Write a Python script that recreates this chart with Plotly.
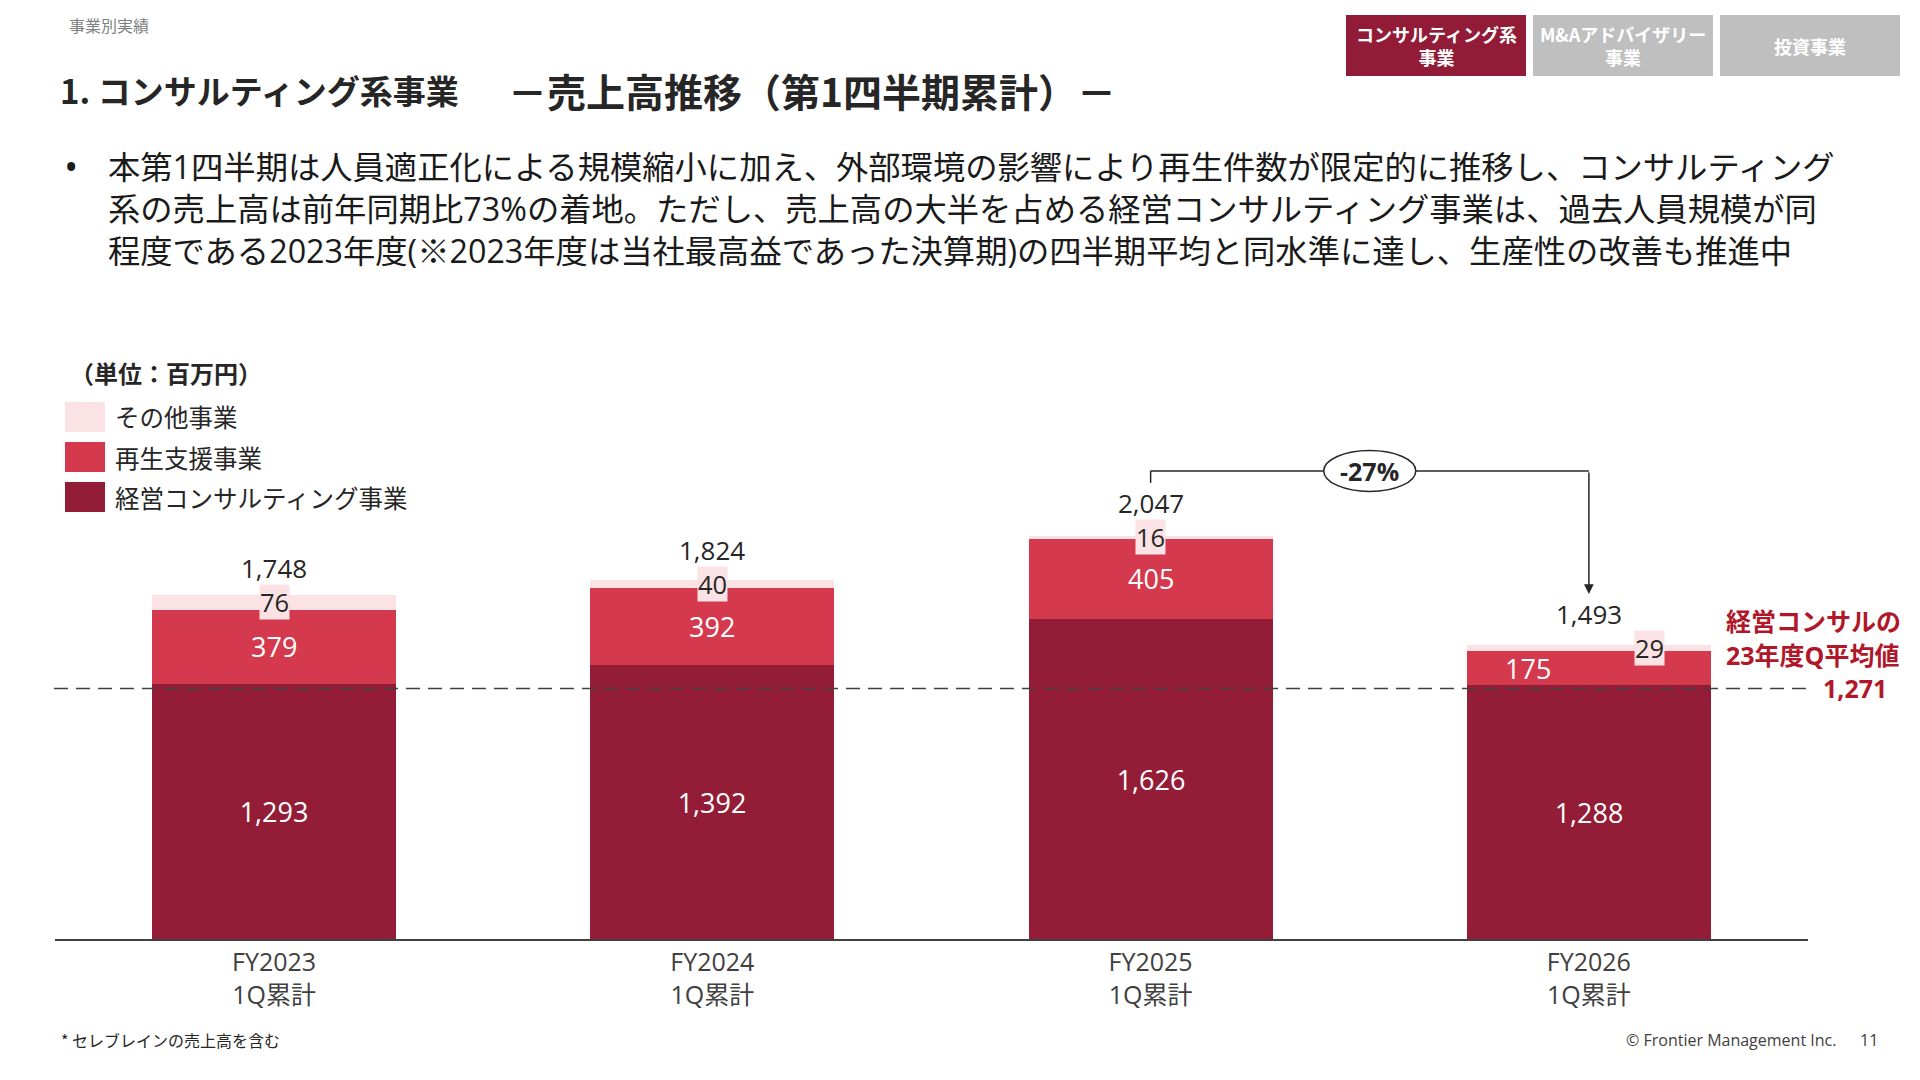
import plotly.graph_objects as go

# ---------------- data ----------------
categories = ["FY2023", "FY2024", "FY2025", "FY2026"]
tick_labels = ["FY2023<br>1Q累計", "FY2024<br>1Q累計", "FY2025<br>1Q累計", "FY2026<br>1Q累計"]
consulting = [1293, 1392, 1626, 1288]   # 経営コンサルティング事業
rebirth = [379, 392, 405, 175]          # 再生支援事業
other = [76, 40, 16, 29]                # その他事業
totals = [1748, 1824, 2047, 1493]
avg_2023_q = 1271
change_label = "-27%"
series_names = ["経営コンサルティング事業", "再生支援事業", "その他事業"]

title_main = "1. コンサルティング系事業"
title_sub = "－売上高推移（第1四半期累計）－"
header = "事業別実績"
tabs = ["コンサルティング系<br>事業", "M&Aアドバイザリー<br>事業", "投資事業"]
body_lines = [
    "本第1四半期は人員適正化による規模縮小に加え、外部環境の影響により再生件数が限定的に推移し、コンサルティング",
    "系の売上高は前年同期比73%の着地。ただし、売上高の大半を占める経営コンサルティング事業は、過去人員規模が同",
    "程度である2023年度(※2023年度は当社最高益であった決算期)の四半期平均と同水準に達し、生産性の改善も推進中",
]
unit_label = "（単位：百万円）"
avg_label_lines = ["経営コンサルの", "23年度Q平均値"]
footnote = "* セレブレインの売上高を含む"
copyright_text = "© Frontier Management Inc."
page_no = "11"

# ---------------- style ----------------
W, H = 1920, 1080
C_DARK = "#931D37"
C_RED = "#D5394D"
C_PINK = "#FBE2E5"
C_TEXT = "#262626"
C_AXIS = "#404040"
C_ACCENT = "#B0182A"
FONT = "Open Sans, Noto Sans CJK JP, sans-serif"
CJK = "Noto Sans CJK JP, sans-serif"


def px(x):
    return x / W


def py(y):
    return 1 - y / H


def ptext(x, y, text, size, color, family=CJK, xanchor="center", yanchor="middle"):
    """Text placed in page pixel coordinates."""
    return dict(x=px(x), y=py(y), xref="paper", yref="paper", text=text,
                showarrow=False, xanchor=xanchor, yanchor=yanchor, align="left",
                font=dict(color=color, size=size, family=family))


AXIS_Y_PX = 939
PX_PER_UNIT = 0.197
YMAX = AXIS_Y_PX / PX_PER_UNIT

xs = list(range(len(categories)))
BAR_W = 0.557

fig = go.Figure()
fig.add_trace(go.Bar(
    x=xs, y=consulting, name=series_names[0], width=BAR_W,
    marker=dict(color=C_DARK, line=dict(width=0)),
    text=[f"{v:,}" for v in consulting], textposition="inside",
    insidetextanchor="middle", textangle=0,
    textfont=dict(color="white", size=27, family=FONT),
    showlegend=False, hoverinfo="skip",
))
fig.add_trace(go.Bar(
    x=xs, y=rebirth, name=series_names[1], width=BAR_W,
    marker=dict(color=C_RED, line=dict(width=0)),
    showlegend=False, hoverinfo="skip",
))
fig.add_trace(go.Bar(
    x=xs, y=other, name=series_names[2], width=BAR_W,
    marker=dict(color=C_PINK, line=dict(width=0)),
    showlegend=False, hoverinfo="skip",
))

annotations = []
shapes = []

# segment labels
red_xshift = [0, 0, 0, -61]
pink_xshift = [0, 0, 0, 61]
for i in xs:
    annotations.append(dict(
        x=i, y=consulting[i] + rebirth[i] / 2, xref="x", yref="y",
        xanchor="center", yanchor="middle",
        text=f"{rebirth[i]:,}", showarrow=False, xshift=red_xshift[i],
        font=dict(color="white", size=27, family=FONT),
    ))
    pink_c = consulting[i] + rebirth[i] + other[i] / 2
    annotations.append(dict(
        x=i, y=pink_c, xref="x", yref="y", xanchor="center", yanchor="middle",
        text=f"{other[i]:,}", showarrow=False, xshift=pink_xshift[i],
        bgcolor=C_PINK, borderpad=0,
        font=dict(color=C_TEXT, size=25.5, family=FONT),
    ))
    annotations.append(dict(
        x=i, y=pink_c, xref="x", yref="y", yshift=34, xanchor="center", yanchor="middle",
        text=f"{totals[i]:,}", showarrow=False,
        font=dict(color=C_TEXT, size=26, family=FONT),
    ))

# average dashed line + label
shapes.append(dict(
    type="line", xref="paper", yref="y", x0=px(54), x1=px(1807),
    y0=avg_2023_q, y1=avg_2023_q, layer="above",
    line=dict(color=C_AXIS, width=1.5, dash="14px,8px"),
))
annotations.append(ptext(1813, 620, f"<b>{avg_label_lines[0]}</b>", 25, C_ACCENT))
annotations.append(ptext(1813, 655, f"<b>{avg_label_lines[1]}</b>", 25, C_ACCENT, FONT))
annotations.append(ptext(1855, 688, f"<b>{avg_2023_q:,}</b>", 25, C_ACCENT, FONT))

# change bracket FY2025 -> FY2026
B_TOP = 2376
B_LEFT_BOTTOM = 2315
B_TIP = 1751
shapes.append(dict(type="line", xref="x", yref="y", x0=2, x1=2, y0=B_LEFT_BOTTOM, y1=B_TOP,
                   line=dict(color=C_TEXT, width=1.5), layer="above"))
shapes.append(dict(type="line", xref="x", yref="y", x0=2, x1=3, y0=B_TOP, y1=B_TOP,
                   line=dict(color=C_TEXT, width=1.5), layer="above"))
annotations.append(dict(x=3, y=B_TIP, xref="x", yref="y", ax=3, ay=B_TOP,
                        axref="x", ayref="y", text="", showarrow=True,
                        arrowhead=2, arrowsize=1.3, arrowwidth=1.5, arrowcolor=C_TEXT))
shapes.append(dict(type="circle", xref="x", yref="y", x0=2.395, x1=2.605,
                   y0=B_TOP - 104, y1=B_TOP + 104, fillcolor="white",
                   line=dict(color=C_TEXT, width=1.5), layer="above"))
annotations.append(dict(x=2.5, y=B_TOP, xref="x", yref="y", text=f"<b>{change_label}</b>",
                        xanchor="center", yanchor="middle",
                        showarrow=False, font=dict(color=C_TEXT, size=25, family=FONT)))

# custom legend
annotations.append(ptext(68, 373, f"<b>{unit_label}</b>", 24, C_TEXT, xanchor="left"))
legend_items = [(series_names[2], C_PINK), (series_names[1], C_RED), (series_names[0], C_DARK)]
for k, (nm, col) in enumerate(legend_items):
    yc = 417 + 40 * k
    shapes.append(dict(type="rect", xref="paper", yref="paper",
                       x0=px(65), x1=px(105), y0=py(yc - 15), y1=py(yc + 15),
                       fillcolor=col, line=dict(width=0)))
    annotations.append(ptext(113, yc, nm, 24.5, C_TEXT, xanchor="left"))

# header / title
annotations.append(ptext(67, 25, header, 16, "#7F7F7F", xanchor="left"))
annotations.append(ptext(58, 90, f"<b>{title_main}</b>", 33, C_TEXT, xanchor="left"))
annotations.append(ptext(506, 90, f"<b>{title_sub}</b>", 39, C_TEXT, xanchor="left"))

# tabs
tab_x = [(1346, 1526), (1533, 1713), (1720, 1900)]
tab_colors = ["#921C38", "#BFBFBF", "#BFBFBF"]
for (x0, x1), col, label in zip(tab_x, tab_colors, tabs):
    shapes.append(dict(type="rect", xref="paper", yref="paper",
                       x0=px(x0), x1=px(x1), y0=py(76), y1=py(15),
                       fillcolor=col, line=dict(width=0)))
    t = ptext((x0 + x1) / 2, 45.5, f"<b>{label}</b>", 18, "white")
    t["align"] = "center"
    annotations.append(t)

# body text (one block, three lines)
annotations.append(ptext(71, 166, "•", 38, "#1A1A1A", FONT))
annotations.append(ptext(106, 208, "<br>".join(body_lines), 32.3, "#1A1A1A", FONT,
                         xanchor="left"))

# footer
annotations.append(ptext(59, 1040, footnote, 16, C_TEXT, xanchor="left"))
annotations.append(ptext(1838, 1040, copyright_text, 16, C_AXIS, FONT, xanchor="right"))
annotations.append(ptext(1858, 1040, page_no, 16, C_AXIS, FONT, xanchor="left"))

fig.update_layout(
    width=W, height=H,
    margin=dict(l=0, r=0, t=0, b=0, pad=0),
    paper_bgcolor="white", plot_bgcolor="white",
    barmode="stack", bargap=0,
    showlegend=False,
    font=dict(family=FONT, color=C_TEXT),
    xaxis=dict(
        domain=[px(55), px(1808)], range=[-0.5, 3.5],
        tickmode="array", tickvals=xs, ticktext=tick_labels,
        tickfont=dict(size=25, color=C_AXIS, family=FONT),
        showline=True, linecolor=C_AXIS, linewidth=2,
        ticks="", showgrid=False, zeroline=False, fixedrange=True,
    ),
    yaxis=dict(
        domain=[1 - AXIS_Y_PX / H, 1], range=[0, YMAX],
        visible=False, showgrid=False, zeroline=False, fixedrange=True,
    ),
    annotations=annotations,
    shapes=shapes,
)

fig.write_html("out.html", config={"displayModeBar": False})
